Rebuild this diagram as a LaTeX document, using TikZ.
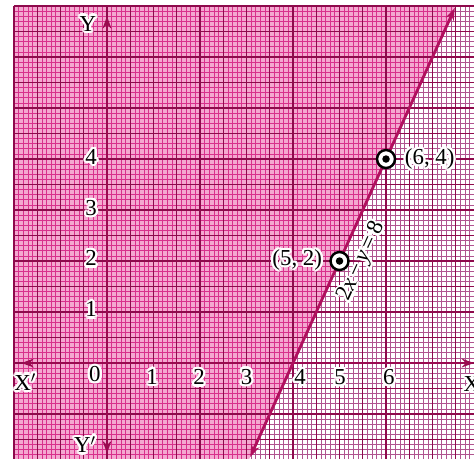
\documentclass[tikz,border=0pt]{standalone}
\usepackage{fontspec}
\setmainfont{Liberation Serif}
\usepackage{contour}
\contourlength{1.3pt}
\usetikzlibrary{arrows.meta}
\definecolor{leftfill}{HTML}{F4A8D0}
\definecolor{minorL}{HTML}{D8318C}
\definecolor{minorR}{HTML}{B0548F}
\definecolor{majorC}{HTML}{8E0A4C}
\definecolor{axisC}{HTML}{9A0A50}
\definecolor{lineC}{HTML}{B0105E}
\begin{document}
\begin{tikzpicture}[x=0.93cm,y=1.02cm,
  lbl/.style={font=\fontsize{13}{15}\selectfont, inner sep=0pt},
  minorl/.style={draw=minorL, line width=0.45pt},
  minorr/.style={draw=minorR, line width=0.4pt},
  medline/.style={draw=majorC, line width=0.55pt},
  majline/.style={draw=majorC, line width=0.95pt},
  axisline/.style={draw=axisC, line width=1.1pt, {Stealth[length=7pt,width=5pt]}-{Stealth[length=7pt,width=5pt]}},
  graphline/.style={draw=lineC, line width=1.6pt, {Stealth[length=7pt,width=5pt]}-{Stealth[length=7pt,width=5pt]}},
  marker/.style={circle, draw=black, fill=white, line width=1.4pt, minimum size=0.36cm, inner sep=0pt},
  dotc/.style={circle, fill=black, minimum size=0.15cm, inner sep=0pt}]
\useasboundingbox (-2.301,-1.863) rectangle (7.892,7.118);
\fill[white] (-2.301,-1.863) rectangle (7.892,7.118);
% left shaded region
\begin{scope}
\clip (-2,-1.9) -- (-2,7) -- (7.5,7) -- (3.05,-1.9) -- cycle;
\fill[leftfill] (-2,-1.9) rectangle (8,7);
\foreach \i in {-20,...,79} \draw[minorl] (\i/10,-1.9) -- (\i/10,7);
\foreach \j in {-19,...,70} \draw[minorl] (-2,\j/10) -- (8,\j/10);
\end{scope}
% right region
\begin{scope}
\clip (3.05,-1.9) -- (7.5,7) -- (8,7) -- (8,-1.9) -- cycle;
\foreach \i in {-20,...,79} \draw[minorr] (\i/10,-1.9) -- (\i/10,7);
\foreach \j in {-19,...,70} \draw[minorr] (-2,\j/10) -- (8,\j/10);
\end{scope}
% medium and major lines
\foreach \i in {-1.5,-0.5,...,7.5} \draw[medline] (\i,-1.9) -- (\i,7);
\foreach \j in {-1.5,-0.5,...,6.5} \draw[medline] (-2,\j) -- (8,\j);
\foreach \i in {-2,...,7} \draw[majline] (\i,-1.9) -- (\i,7);
\foreach \j in {-1,...,7} \draw[majline] (-2,\j) -- (8,\j);
% axes
\coordinate (xl) at (-1.84,0);
\coordinate (xr) at (7.892,0);
\coordinate (yt) at (0,6.8);
\coordinate (yb) at (0,-1.77);
\draw[axisline] (xl) -- (xr);
\draw[axisline] (yb) -- (yt);
% graph line 2x - y = 8
\coordinate (lb) at (3.08,-1.84);
\coordinate (lt) at (7.48,6.96);
\draw[graphline] (lb) -- (lt);
% points
\node[marker] (p52) at (5,2) {};
\node[dotc] (d52) at (p52.center) {};
\node[marker] (p64) at (6,4) {};
\node[dotc] (d64) at (p64.center) {};
\node[lbl, anchor=east] (l52) at (4.63,2.0) {\contour{white}{(5, 2)}};
\node[lbl, anchor=west] (l64) at (6.4,3.98) {\contour{white}{(6, 4)}};
\node[lbl, rotate=65.5] (eq) at (5.5,1.98) {\contour{white}{2\textit{x}\,−\,\textit{y}\,=\,8}};
% axis labels
\node[lbl] (ylab) at (-0.41,6.63) {\contour{white}{Y}};
\node[lbl] (yplab) at (-0.47,-1.62) {\contour{white}{Y$'$}};
\node[lbl] (xplab) at (-1.76,-0.39) {\contour{white}{X$'$}};
\node[lbl, anchor=west] (xlab) at (7.66,-0.43) {\contour{white}{X}};
\node[lbl] (n0) at (-0.26,-0.24) {\contour{white}{0}};
\node[lbl] (n1) at (0.97,-0.29) {\contour{white}{1}};
\node[lbl] (n2) at (1.98,-0.3) {\contour{white}{2}};
\node[lbl] (n3) at (3.0,-0.29) {\contour{white}{3}};
\node[lbl] (n4) at (4.15,-0.3) {\contour{white}{4}};
\node[lbl] (n5) at (5.01,-0.3) {\contour{white}{5}};
\node[lbl] (n6) at (6.06,-0.3) {\contour{white}{6}};
\node[lbl] (m1) at (-0.34,1.03) {\contour{white}{1}};
\node[lbl] (m2) at (-0.34,2.03) {\contour{white}{2}};
\node[lbl] (m3) at (-0.34,3.02) {\contour{white}{3}};
\node[lbl] (m4) at (-0.34,4.02) {\contour{white}{4}};
\end{tikzpicture}
\end{document}
